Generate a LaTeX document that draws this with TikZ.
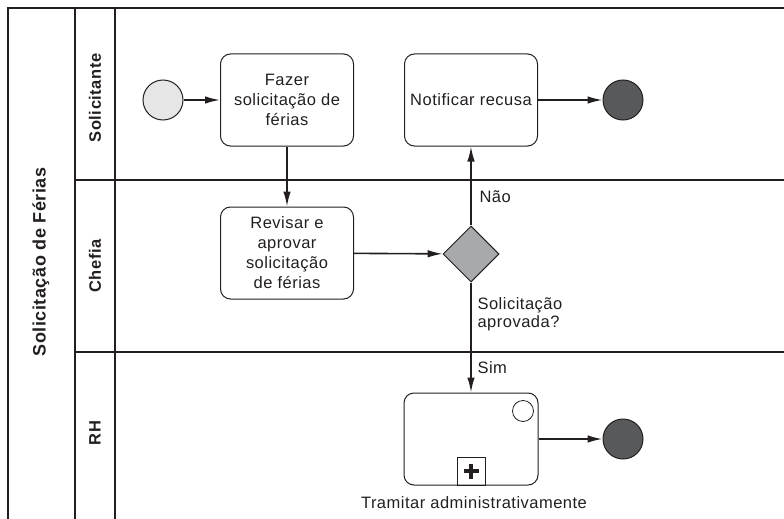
\documentclass[tikz,border=0pt]{standalone}
\usepackage{fontspec}
\setmainfont{Liberation Sans}[LetterSpace=3]
\usepackage{tikz}
\usetikzlibrary{shapes.geometric, arrows.meta}
\definecolor{ink}{HTML}{231F20}
\definecolor{startgray}{HTML}{E6E6E7}
\definecolor{endgray}{HTML}{58595B}
\definecolor{gwgray}{HTML}{A7A9AC}
\tikzset{
  lane/.style     = {draw=ink, line width=1.4pt},
  task/.style     = {shape=rectangle, rounded corners=10pt, draw=ink,
          line width=1pt, align=center, minimum width=133pt,
          minimum height=92pt, text=ink, font=\fontsize{16.5}{20}\selectfont},
  startev/.style  = {circle, draw=ink, line width=1pt, fill=startgray,
          minimum size=40pt, inner sep=0pt},
  endev/.style    = {startev, fill=endgray},
  gateway/.style  = {diamond, draw=ink, line width=1pt, fill=gwgray,
          minimum size=56pt, inner sep=0pt},
  lanelabel/.style= {rotate=90, text=ink, font=\fontsize{16.5}{20}\selectfont\bfseries},
  flowlabel/.style= {anchor=west, align=left, text=ink, font=\fontsize{16.5}{18}\selectfont},
  flow/.style     = {draw=ink, line width=1.6pt, -{Latex[length=15pt,width=7.5pt]}}
}
\begin{document}
\begin{tikzpicture}[x=1pt, y=-1pt]
  \useasboundingbox (0,0) rectangle (784,519);

  % pool and lanes
  \draw [lane] (784,8) -- (8,8) -- (8,519);
  \draw [lane] (75,8) -- (75,519);
  \draw [lane] (115,8) -- (115,519);
  \draw [lane] (75,180) -- (784,180);
  \draw [lane] (75,352) -- (784,352);
  \node [lanelabel, font=\fontsize{18}{20}\selectfont\bfseries] (pool) at (41,262)
    {Solicitação de Férias};
  \node [lanelabel] (solicitante) at (95,98) {Solicitante};
  \node [lanelabel] (chefia) at (95,266) {Chefia};
  \node [lanelabel] (rh) at (95,433) {RH};

  % Solicitante
  \node [startev] (inicio) at (163,100) {};
  \node [task] (fazer) at (287,100) {Fazer\\solicitação de\\férias};
  \node [task] (notificar) at (471,100) {Notificar recusa};
  \node [endev] (fimrecusa) at (623,100) {};

  % Chefia
  \node [task] (revisar) at (287,253) {Revisar e\\aprovar\\solicitação\\de férias};
  \node [gateway] (decisao) at (471,254) {};

  % RH
  \node [task, minimum width=134pt] (tramitar) at (471,439) {};
  \node [circle, draw=ink, line width=0.8pt, minimum size=21pt, inner sep=0pt]
    (marcador) at (523,411) {};
  \node [draw=ink, line width=1pt, minimum size=28pt, inner sep=0pt,
    anchor=south] (expandir) at (tramitar.south) {};
  \draw [ink, line width=3.2pt] ([xshift=-7.5pt]expandir.center) -- ([xshift=7.5pt]expandir.center)
    ([yshift=-7.5pt]expandir.center) -- ([yshift=7.5pt]expandir.center);
  \node [text=ink, font=\fontsize{16.5}{20}\selectfont] (tramitarlabel) at (474,503)
    {Tramitar administrativamente};
  \node [endev] (fimrh) at (623,439) {};

  % sequence flows
  \draw [flow] (inicio) -- (fazer);
  \draw [flow] (fazer) -- (revisar);
  \draw [flow] (revisar) -- (decisao);
  \draw [flow] (decisao) -- (notificar);
  \draw [flow] (notificar) -- (fimrecusa);
  \draw [flow] (decisao) -- (tramitar);
  \draw [flow] (tramitar) -- (fimrh);

  \node [flowlabel] (nao) at (476,197) {Não};
  \node [flowlabel] (pergunta) at (474,314) {Solicitação\\aprovada?};
  \node [flowlabel] (sim) at (474,368) {Sim};
\end{tikzpicture}
\end{document}
